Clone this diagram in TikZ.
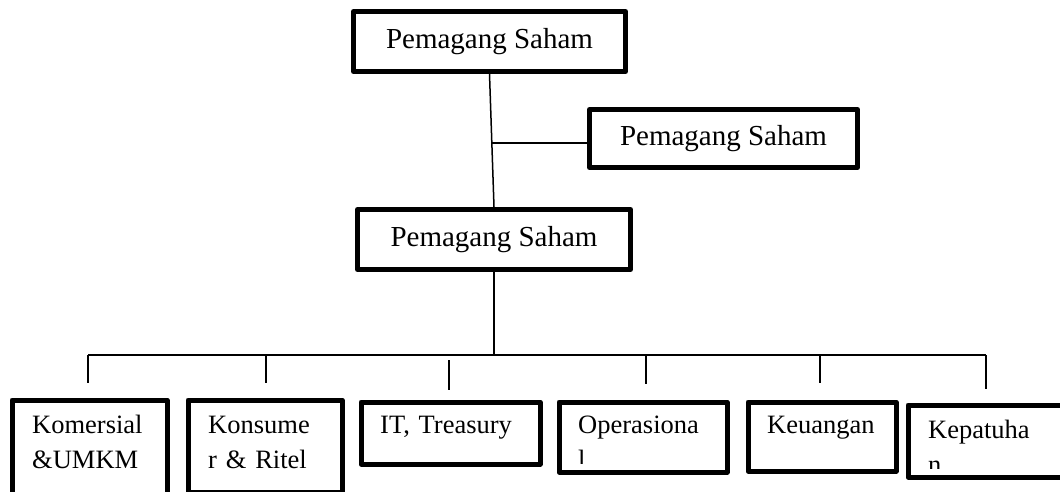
\documentclass[tikz,border=0pt]{standalone}
\usepackage{fontspec}
\setmainfont{Liberation Serif}
\usetikzlibrary{calc}

\begin{document}
\begin{tikzpicture}[x=1pt, y=-1pt,
    unit/.style={draw, line width=5pt, line join=round, inner sep=0pt},
    judul/.style={unit, font=\fontsize{29}{35}\selectfont},
    bagian/.style={unit, anchor=north west},
    ket/.style={anchor=base west, inner sep=0pt, text width=160pt, align=left,
                font=\fontsize{26.5}{35}\selectfont},
    garis/.style={line width=1.5pt}]

  \useasboundingbox (0,0) rectangle (1060,492);
  \clip (0,0) rectangle (1060,492);

  %% atas
  \node[judul, minimum width=272pt, minimum height=60pt] (psA) at (489.5,41.5) {Pemagang Saham};
  \node[judul, minimum width=268pt, minimum height=58pt] (psB) at (723.5,138.5) {Pemagang Saham};
  \node[judul, minimum width=273pt, minimum height=60pt] (psC) at (494,239.5) {Pemagang Saham};

  %% bawah
  \node[bagian, minimum width=155pt, minimum height=123pt] (kom) at (9.5,397.5) {};
  \node[bagian, minimum width=154pt, minimum height=92pt]  (kon) at (185.5,397.5) {};
  \node[bagian, minimum width=179pt, minimum height=62pt]  (it)  at (358.5,399.5) {};
  \node[bagian, minimum width=168pt, minimum height=70pt]  (ops) at (556.5,399.5) {};
  \node[bagian, minimum width=148pt, minimum height=69pt]  (keu) at (745.5,399.5) {};
  \node[bagian, minimum width=175pt, minimum height=72pt]  (kep) at (905.5,402.5) {};

  \node[ket] (komT) at (32,433)  {Komersial\\\&UMKM};
  \node[ket] (konT) at (208,433) {Konsume\\r \& Ritel};
  \node[ket] (itT)  at (380,433) {IT, Treasury};
  \begin{scope}
    \clip (ops.north west) rectangle ($(ops.south east)+(0,-11)$);
    \node[ket] (opsT) at (578,433) {Operasiona\\l};
  \end{scope}
  \node[ket] (keuT) at (767,433) {Keuangan};
  \begin{scope}
    \clip (kep.north west) rectangle ($(kep.south east)+(0,-11)$);
    \node[ket] (kepT) at (928,438) {Kepatuha\\n};
  \end{scope}

  %% garis
  \coordinate (j1) at ($(psA.south)!0.52!(psC.north)$);
  \draw[garis] (psA.south) -- (psC.north);
  \draw[garis] (j1) -- (j1 -| psB.west);

  \coordinate (bL) at (88,355);
  \coordinate (bR) at (986,355);
  \draw[garis] (psC.south) -- (psC.south |- bL);
  \draw[garis] (bL) -- (bR);

  \coordinate (dKom) at (88,383);
  \coordinate (dKon) at (266,383);
  \coordinate (dIt)  at (449,390);
  \coordinate (dOps) at (646,384);
  \coordinate (dKeu) at (820,383);
  \coordinate (dKep) at (986,389);
  \foreach \d in {dKom,dKon,dOps,dKeu,dKep}
    \draw[garis] (\d |- bL) -- (\d);
  \draw[garis] ($(dIt |- bL)+(0,5)$) -- (dIt);

\end{tikzpicture}
\end{document}
